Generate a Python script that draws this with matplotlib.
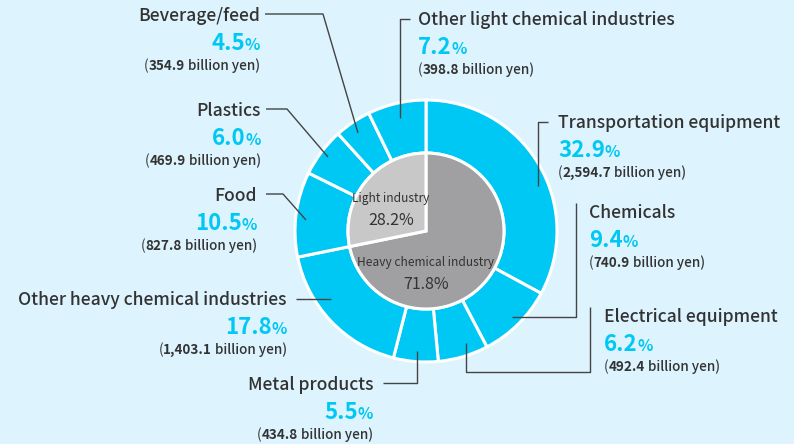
import numpy as np
import matplotlib
matplotlib.use("Agg")
import matplotlib.pyplot as plt

plt.rcParams['font.family'] = ['Noto Sans CJK JP', 'DejaVu Sans']

# data
outer_labels = ["Transportation equipment", "Chemicals", "Electrical equipment",
                "Metal products", "Other heavy chemical industries", "Food",
                "Plastics", "Beverage/feed", "Other light chemical industries"]
outer_pct = [32.9, 9.4, 6.2, 5.5, 17.8, 10.5, 6.0, 4.5, 7.2]
outer_yen = ["2,594.7", "740.9", "492.4", "434.8", "1,403.1",
             "827.8", "469.9", "354.9", "398.8"]
inner_labels = ["Heavy chemical industry", "Light industry"]
inner_pct = [71.8, 28.2]

# layout (pixel coords, y down)
W, H = 794, 444
cx, cy = 426, 231
r_out, r_in = 131, 78
BG = "#ddf3fd"
CYAN = "#00c8f5"
DARK = "#333333"

# text anchor: (x, label baseline, align)
text_pos = [(558, 128, "left"), (589, 218, "left"), (604, 322, "left"),
            (373, 390, "right"), (287, 305, "right"), (257, 201, "right"),
            (261, 116, "right"), (260, 21, "right"), (418, 25, "left")]
leaders = [
    [(548, 122), (538, 122), (538, 186)],
    [(576, 203), (576, 317), (512, 317)],
    [(590, 307), (590, 372), (466, 372), (466, 343)],
    [(383, 383), (417, 383), (417, 351)],
    [(296, 299), (331, 299)],
    [(266, 194), (283, 194), (306, 220)],
    [(266, 109), (287, 109), (328, 157)],
    [(265, 14), (323, 14), (358, 133)],
    [(410, 19), (400, 19), (400, 118)],
]

fig = plt.figure(figsize=(W / 100, H / 100), dpi=100, facecolor=BG)
ax = fig.add_axes([0, 0, 1, 1])
ax.set_facecolor(BG)

ax.pie(outer_pct, radius=r_out, center=(cx, cy), startangle=-90, counterclock=True,
       colors=[CYAN] * len(outer_pct),
       wedgeprops=dict(width=r_out - r_in, edgecolor="white", linewidth=2.2))
ax.pie(inner_pct, radius=r_in, center=(cx, cy), startangle=-90, counterclock=True,
       colors=["#a0a0a2", "#c8c8c8"],
       wedgeprops=dict(edgecolor="white", linewidth=2.2))

ax.set_xlim(0, W)
ax.set_ylim(H, 0)
ax.set_aspect("equal")
ax.axis("off")

for path in leaders:
    xs, ys = zip(*path)
    ax.plot(xs, ys, color="#444444", lw=1.0, solid_capstyle="butt")

fig.canvas.draw()
renderer = fig.canvas.get_renderer()


def rich(x, y, parts, ha):
    texts = []
    for s, size, weight, color in parts:
        t = ax.text(0, y, s, fontsize=size, fontweight=weight, color=color,
                    ha="left", va="baseline")
        texts.append(t)
    widths = [t.get_window_extent(renderer).width for t in texts]
    start = x if ha == "left" else x - sum(widths)
    for t, w in zip(texts, widths):
        t.set_x(start)
        start += w


for lab, p, yen, (x, b, ha) in zip(outer_labels, outer_pct, outer_yen, text_pos):
    rich(x, b, [(lab, 12.6, "medium", DARK)], ha)
    rich(x, b + 29, [(f"{p:.1f}", 16, "bold", CYAN), ("%", 11.5, "bold", CYAN)], ha)
    rich(x, b + 49, [("(", 9.7, "normal", DARK), (yen, 9.7, "bold", DARK),
                     (" billion yen)", 9.7, "medium", DARK)], ha)

inner_pos = [(426, 266), (391, 202)]
for lab, p, (x, b) in zip(inner_labels, inner_pct, inner_pos):
    ax.text(x, b, lab, fontsize=8.6, color=DARK, ha="center", va="baseline")
    ax.text(x, b + 23, f"{p:.1f}%", fontsize=11.5, color=DARK, ha="center", va="baseline")

fig.savefig("out.png", dpi=100, facecolor=BG)
